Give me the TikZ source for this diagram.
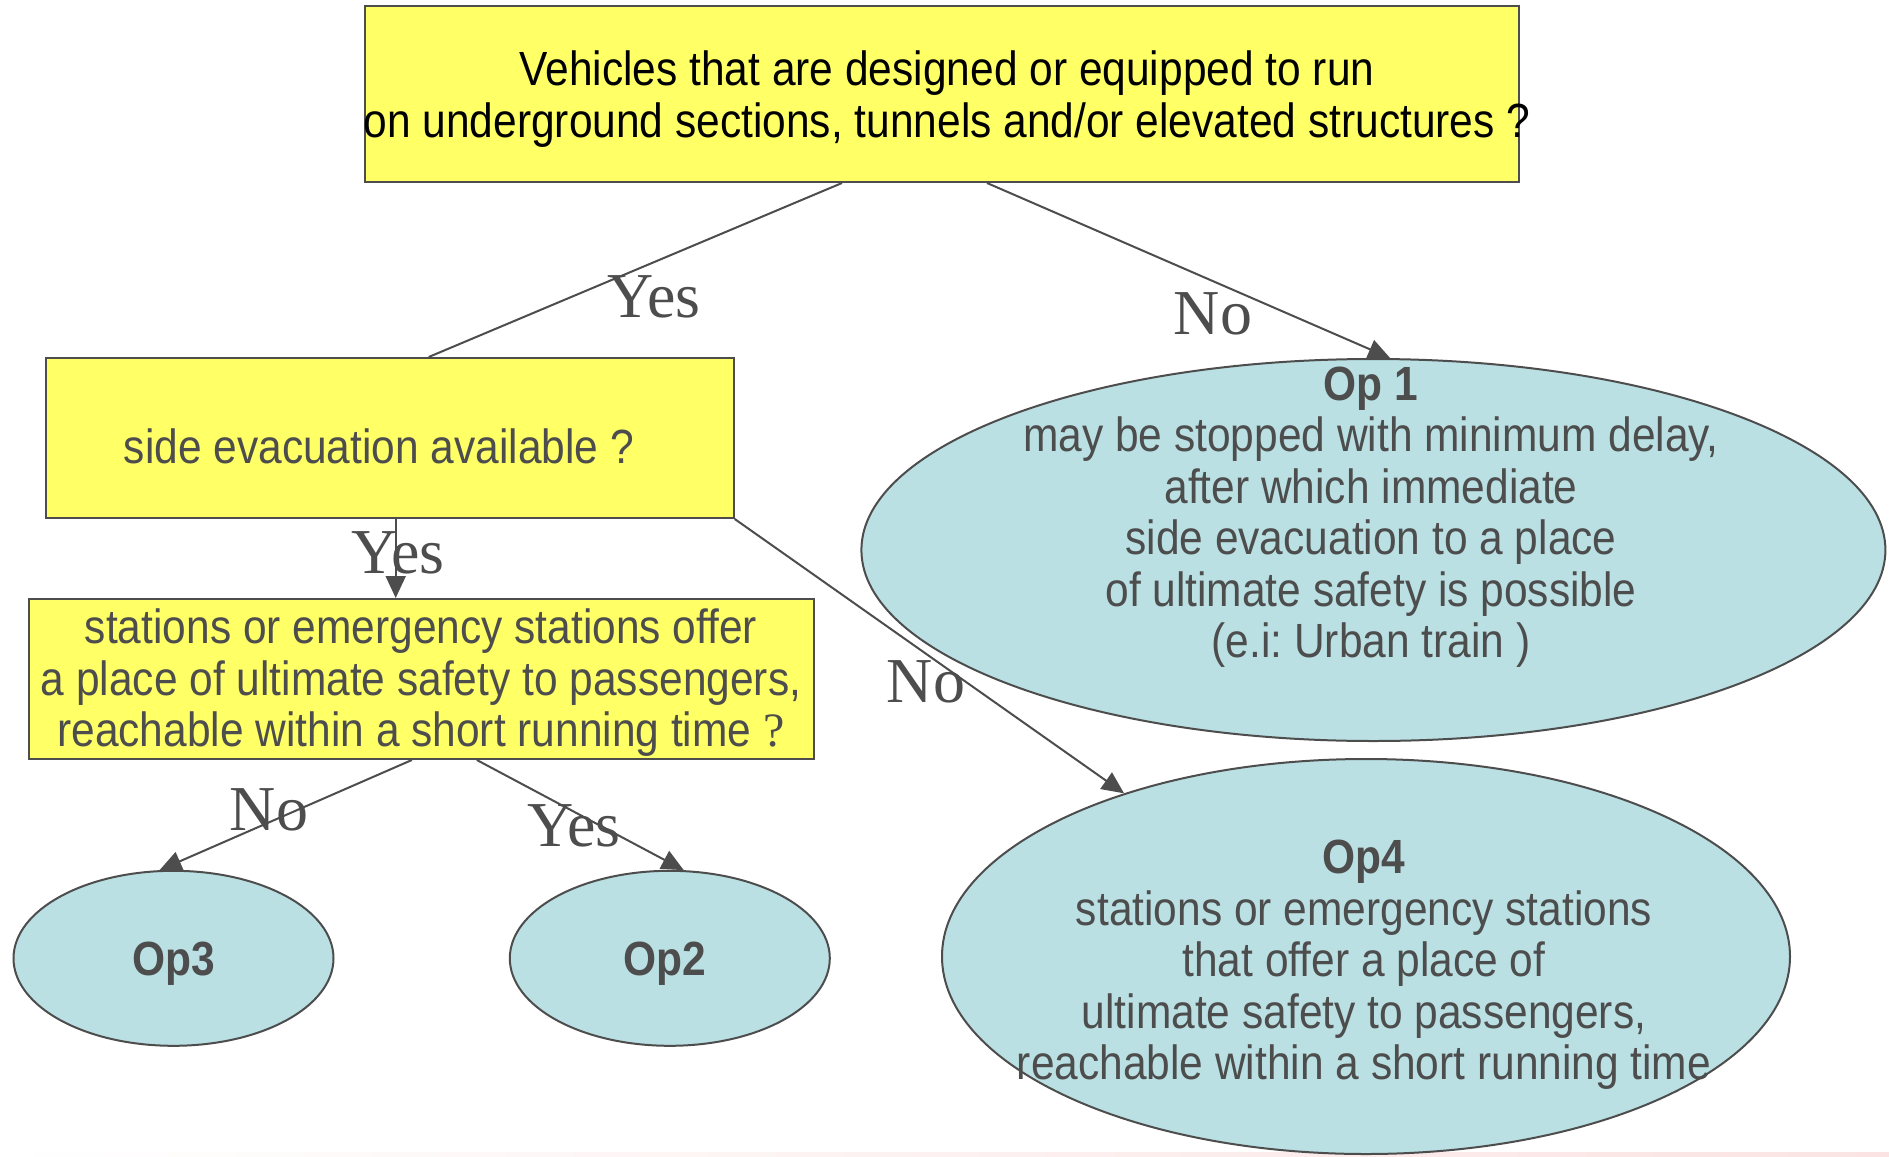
\documentclass[tikz,border=0pt]{standalone}
\usepackage{fontspec}
\setmainfont{Liberation Sans}
\newfontfamily\boxfont[FakeStretch=0.885]{Liberation Sans}
\newfontfamily\labelfont{Liberation Serif}
\usetikzlibrary{arrows.meta,calc,shapes.geometric}
\frenchspacing

\definecolor{qyellow}{HTML}{FFFF66}
\definecolor{qblue}{HTML}{BAE0E3}
\definecolor{qline}{HTML}{4D4D4D}
\definecolor{qpink}{HTML}{FBE3E3}

\tikzset{
  question/.style={rectangle, draw=qline, line width=2pt, fill=qyellow, inner sep=0pt},
  outcome/.style={ellipse, draw=qline, line width=2pt, fill=qblue, inner sep=0pt},
  boxtext/.style={align=center, inner sep=0pt, text=qline,
    font=\boxfont\fontsize{48}{51.5}\selectfont},
  branch/.style={draw=qline, line width=2pt, -{Triangle[length=22pt,width=20pt]}, fill=qline},
  plainbranch/.style={draw=qline, line width=2pt},
  answer/.style={anchor=base, inner sep=0pt, text=qline,
    font=\labelfont\fontsize{64}{64}\selectfont},
}

\begin{document}
\begin{tikzpicture}[x=1pt,y=-1pt]
\useasboundingbox (0,0) rectangle (1889,1156);
\fill[left color=white, right color=qpink] (0,1152) rectangle (1889,1156);

% question boxes and outcome ellipses
\node[question, minimum width=1154pt, minimum height=176pt] (top) at (942,94) {};
\node[question, minimum width=688pt, minimum height=160pt] (side) at (389.7,438) {};
\node[question, minimum width=785.5pt, minimum height=160pt] (stat) at (421.6,679) {};
\node[outcome, minimum width=1024pt, minimum height=382pt] (op1) at (1373.4,550) {};
\node[outcome, minimum width=848pt, minimum height=395pt] (op4) at (1366,956.5) {};
\node[outcome, minimum width=320pt, minimum height=175pt] (op3) at (173.5,958.3) {};
\node[outcome, minimum width=320pt, minimum height=175pt] (op2) at (669.8,958.3) {};

% texts
\node[boxtext, text=black] (toptext) at (947,99)
  {Vehicles that are designed or equipped to run\\on underground sections, tunnels and/or elevated structures ?};
\node[boxtext] (sidetext) at (379,446) {side evacuation available ?};
\node[boxtext] (stattext) at (421,683)
  {stations or emergency stations offer\\a place of ultimate safety to passengers,\\reachable within a short running time {\labelfont ?}};
\node[boxtext] (op1text) at (1371,517)
  {\bfseries Op 1\\may be stopped with minimum delay,\\after which immediate\\side evacuation to a place\\of ultimate safety is possible\\(e.i: Urban train )};
\node[boxtext] (op4text) at (1364,965)
  {\bfseries Op4\\stations or emergency stations\\that offer a place of\\ultimate safety to passengers,\\reachable within a short running time};
\node[boxtext] (op3text) at ($(op3.center)+(0,5)$) {\bfseries Op3};
\node[boxtext] (op2text) at ($(op2.center)+(-5,5)$) {\bfseries Op2};

% branch labels
\node[answer] (l1) at (654,317) {Yes};
\node[answer] (l2) at (1213,334) {No};
\node[answer] (l3) at (398,573) {Yes};
\node[answer] (l4) at (926,702) {No};
\node[answer] (l5) at (269,830) {No};
\node[answer] (l6) at (574,846) {Yes};

% connectors
\draw[plainbranch] ($(top.south west)+(478,0)$) -- ($(side.north west)+(384,0)$);
\draw[branch] ($(top.south west)+(623,0)$) -- (op1.85);
\draw[branch] ($(side.south west)+(351,0)$) coordinate (s1) -- (s1 |- stat.north);
\draw[branch] (side.south east) -- (op4.146);
\draw[branch] ($(stat.south west)+(384,0)$) -- (op3.99);
\draw[branch] ($(stat.south west)+(449,0)$) -- (op2.81);
\end{tikzpicture}
\end{document}
